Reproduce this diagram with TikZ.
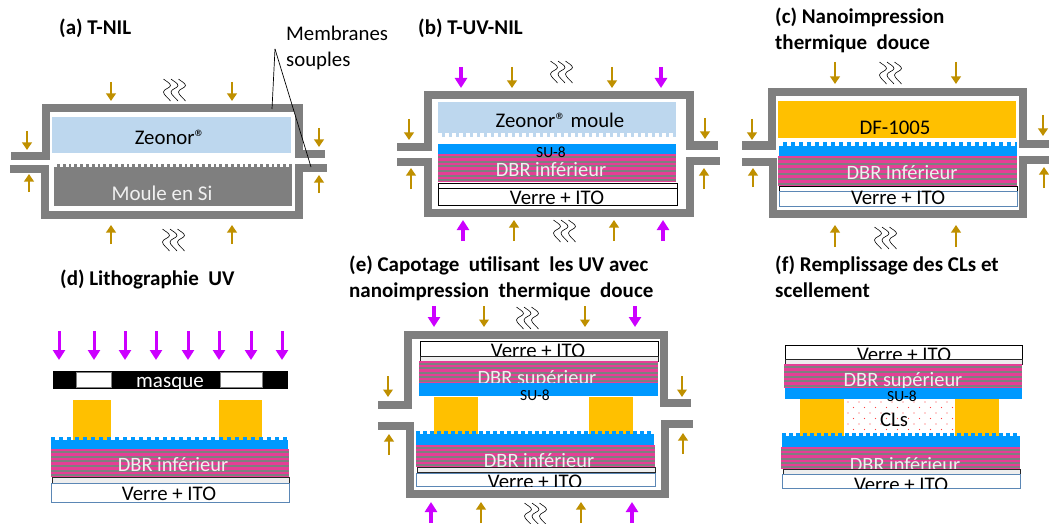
\documentclass[tikz,border=0pt]{standalone}
\usepackage{fontspec}
\setmainfont{Carlito}
\usetikzlibrary{arrows.meta}
\definecolor{memb}{HTML}{7F7F7F}
\definecolor{zeo}{HTML}{BDD7EE}
\definecolor{brownarr}{HTML}{BF9000}
\definecolor{magarr}{HTML}{CC00FF}
\definecolor{resin}{HTML}{FFC000}
\definecolor{sueight}{HTML}{0099FF}
\definecolor{pinkl}{HTML}{E63E96}
\definecolor{steel}{HTML}{5B87B5}
\definecolor{thinl}{HTML}{EEEEEE}
\tikzset{
  membrane/.style={draw=memb,line width=8pt,miter limit=10},
  parr/.style={brownarr,line width=2.4pt,-{Triangle[length=7.5pt,width=9.5pt]}},
  uvarr/.style={magarr,line width=3.6pt,-{Triangle[length=10pt,width=12pt]}},
  wave/.style={black,line width=.6pt},
  big/.style={font=\fontsize{20.8}{24}\selectfont,inner sep=0pt,text=black,yshift=-1pt},
  bigw/.style={font=\fontsize{20.4}{24}\selectfont,inner sep=0pt,text=white!94!black,yshift=-1pt},
  small/.style={font=\fontsize{15.5}{17}\selectfont,inner sep=0pt,text=black,yshift=-1pt},
  title/.style={font=\fontsize{21}{26}\selectfont\bfseries,inner sep=0pt,anchor=north west,align=left,text=black},
  glass/.style={draw=black,line width=1pt,fill=white},
  glassb/.style={draw=steel,line width=1pt,fill=white},
  thin layer/.style={draw=black!85,line width=1pt,fill=thinl},
  leader/.style={black,line width=.7pt},
}
\newcommand{\chamb}[7]{\draw[membrane] (#1,#2) -- (#3,#2) -- (#3,#4) -- (#5,#4) -- (#5,#6) -- (#7,#6);}
\newcommand{\parrow}[4]{\coordinate (pa) at (#2,#3); \coordinate (pb) at (#2,#4); \draw[#1] (pa) -- (pb);}
\newcommand{\heat}[2]{\foreach \k in {0,7.5,15}{
  \draw[wave,shift={(#1+\k-11.5,#2)}] (0,0) .. controls (2,2) and (7,4) .. (7,6.5)
     .. controls (7,9) and (0,10) .. (0,13) .. controls (0,16) and (5,19) .. (7,22);}}
\newcommand{\dbr}[5]{\fill[pinkl] (#1,#3) rectangle (#2,#4);
  \pgfmathsetmacro{\hh}{(#4-#3)/#5}
  \foreach \i in {1,...,#5}{\fill[memb] (#1,{#3+(\i-0.6)*\hh}) rectangle (#2,{#3+(\i-0.15)*\hh});}}
\newcommand{\teeth}[6]{\draw[#5,line width=#4pt,dash pattern=on #6pt off #6pt] (#1,#3) -- (#2,#3);}
\begin{document}
\begin{tikzpicture}[x=1pt,y=-1pt]
\useasboundingbox (0,0) rectangle (1049,524);
\fill[white] (0,0) rectangle (1049,524);

% ---------- (a)
\node[title] (ta) at (59,19) {(a) T-NIL};
\fill[zeo] (52,117) rectangle (291,153);
\node[big] (za) at (170,136) {Zeonor®};
\fill[memb] (54,164) rectangle (292,206);
\teeth{54}{292}{165.5}{3.4}{white}{2.9}
\node[bigw,font=\fontsize{21}{24}\selectfont] (sia) at (162,192) {Moule en Si};
\chamb{11}{155.5}{45.5}{108}{299}{153.5}{325}
\chamb{10}{169}{45}{215}{299}{168}{327}
\node[font=\fontsize{20.8}{26}\selectfont,inner sep=0pt,anchor=north west,align=left] (mem) at (286,26) {Membranes\\souples};
\coordinate (mo) at (275,49);
\coordinate (m1) at (272,109);
\coordinate (m2) at (311,167);
\draw[leader] (mo) -- (m1);
\draw[leader] (mo) -- (m2);
\parrow{parr}{111}{82}{101}\parrow{parr}{232}{82}{101}
\parrow{parr}{111}{244}{225}\parrow{parr}{232}{244}{225}
\parrow{parr}{27}{131}{150}\parrow{parr}{29}{192}{174}
\parrow{parr}{319}{128}{147}\parrow{parr}{319}{193}{175}
\heat{175}{79}\heat{174}{229}

% ---------- (b)
\node[title] (tb) at (418,19) {(b) T-UV-NIL};
\fill[zeo] (438,102) rectangle (676,137);
\teeth{438}{676}{135}{4}{white}{3.5}
\node[big] (zb) at (560,119.5) {Zeonor® moule};
\fill[sueight] (438,144) rectangle (676,154);
\dbr{438}{676}{154}{182}{6}
\node[small] (sb) at (551,151) {SU-8};
\node[bigw] (db) at (551,169) {DBR inférieur};
\draw[glass] (438.5,183) rectangle (677,188.5);
\draw[glass] (438.5,188.5) rectangle (677,205);
\node[big] (vb) at (557,197) {Verre + ITO};
\chamb{397}{147}{428}{95}{690}{145.5}{718}
\chamb{397}{162}{428}{213}{690}{161}{720}
\parrow{uvarr}{461}{67}{88}\parrow{uvarr}{661}{67}{88}
\parrow{parr}{512}{67}{88}\parrow{parr}{612}{67}{88}
\parrow{uvarr}{463}{241}{220}\parrow{uvarr}{663}{241}{220}
\parrow{parr}{514}{241}{220}\parrow{parr}{614}{241}{220}
\parrow{parr}{409}{119}{140}\parrow{parr}{411}{189}{168}
\parrow{parr}{705}{118}{139}\parrow{parr}{704}{189}{168}
\heat{562}{61}\heat{565}{220}

% ---------- (c)
\node[title] (tc) at (775,7.5) {(c) Nanoimpression\\thermique\ \ douce};
\fill[resin] (778,101) rectangle (1016,138);
\node[big] (dfc) at (895,127) {DF-1005};
\fill[sueight] (779,142) rectangle (1017,156);
\teeth{779}{1017}{144}{4}{white}{4}
\dbr{778}{1017}{156}{186}{6}
\node[bigw] (dc) at (902,172) {DBR Inférieur};
\draw[glass] (779,186) rectangle (1017,191);
\draw[glassb] (779,191) rectangle (1017,206);
\node[big] (vc) at (898,197) {Verre + ITO};
\chamb{742}{145.5}{772}{92}{1023}{144}{1049}
\chamb{742}{162}{773}{214}{1023}{160}{1049}
\parrow{parr}{835}{62}{84}\parrow{parr}{956}{62}{84}
\parrow{parr}{835}{247}{225}\parrow{parr}{956}{247}{225}
\parrow{parr}{752}{119}{140}\parrow{parr}{753}{187}{168}
\parrow{parr}{1043}{115}{136}\parrow{parr}{1044}{188}{167}
\heat{891}{62}\heat{886}{227}

% ---------- (d)
\node[title] (td) at (60,269.5) {(d) Lithographie\ \ UV};
\foreach \x in {59,94,125,156,188,219,251,282}{
  \coordinate (ua) at (\x,331); \coordinate (ub) at (\x,360);
  \draw[uvarr,line width=3pt] (ua) -- (ub);}
\fill[black] (53,371) rectangle (288,389);
\draw[draw=memb,line width=.8pt,fill=white] (76,372.5) rectangle (111,387.5);
\draw[draw=memb,line width=.8pt,fill=white] (220,372.5) rectangle (262,387.5);
\begin{scope}
\clip (53,371) rectangle (288,388);
\node[bigw,text=white,font=\fontsize{21}{24}\selectfont] (md) at (170,383) {masque};
\end{scope}
\fill[resin] (73,400) rectangle (111,440);
\fill[resin] (219,400) rectangle (262,440);
\teeth{51}{288}{438.5}{3.4}{sueight}{4}
\fill[sueight] (51,440) rectangle (288,449);
\dbr{51}{289}{449}{477}{6}
\node[bigw] (dd) at (173,464) {DBR inférieur};
\draw[thin layer] (52,477) rectangle (289,483);
\draw[glassb] (51.5,483) rectangle (289,502);
\node[big] (vd) at (169,493) {Verre + ITO};

% ---------- (e)
\node[title] (te) at (349,255.5) {(e) Capotage\ \ utilisant\ \ les UV avec\\nanoimpression\ \ thermique\ \ douce};
\draw[glass] (420,341) rectangle (658,356);
\node[big] (ve) at (538,350) {Verre + ITO};
\draw[thin layer] (420,356) rectangle (658,361);
\dbr{419}{658}{361}{383}{5}
\node[bigw] (dse) at (537,378) {DBR supérieur};
\fill[sueight] (419,383) rectangle (658,396);
\node[small] (se) at (535,394) {SU-8};
\fill[resin] (434,397) rectangle (478,434);
\fill[resin] (589,397) rectangle (633,434);
\teeth{416}{654}{432.5}{3}{sueight}{3.5}
\fill[sueight] (416,434) rectangle (654,445);
\dbr{416}{655}{445}{467}{5}
\node[bigw] (die) at (539,460) {DBR inférieur};
\draw[thin layer] (417,467) rectangle (655,472);
\draw[glassb] (416.5,473) rectangle (655,486);
\begin{scope}
\clip (416,465) rectangle (655,486);
\node[big] (vie) at (535,481) {Verre + ITO};
\end{scope}
\chamb{378}{405}{408}{335}{664}{403}{691}
\chamb{378}{426}{410}{494}{665}{424}{693}
\parrow{uvarr}{434}{306}{327}\parrow{uvarr}{635}{306}{327}
\parrow{parr}{484}{306}{327}\parrow{parr}{585}{306}{327}
\parrow{uvarr}{431}{523}{502}\parrow{uvarr}{632}{523}{502}
\parrow{parr}{481}{523}{502}\parrow{parr}{581}{523}{502}
\parrow{parr}{388}{376}{397}\parrow{parr}{389}{455}{434}
\parrow{parr}{682}{376}{397}\parrow{parr}{683}{454}{433}
\heat{528}{307}\heat{536}{503}

% ---------- (f)
\node[title] (tf) at (775,255.5) {(f) Remplissage\ des CLs et\\scellement};
\draw[glass] (785,345) rectangle (1022,359);
\node[big] (vf) at (904,354) {Verre + ITO};
\draw[thin layer] (785,359) rectangle (1022,364);
\dbr{784}{1022}{364}{388}{5}
\node[bigw] (dsf) at (903,380) {DBR supérieur};
\fill[sueight] (785,388) rectangle (1022,399);
\node[small] (sf) at (902,395.5) {SU-8};
\fill[resin] (800,399) rectangle (844,436);
\fill[resin] (955,399) rectangle (999,436);
\foreach \r in {0,...,5}{
  \foreach \c in {0,...,9}{
    \pgfmathsetmacro{\px}{848+\c*11+mod(\r,2)*5.5}
    \pgfmathsetmacro{\py}{402+\r*5.5}
    \fill[red!75!white] (\px,\py) circle (.55pt);}}
\node[big] (clf) at (894,419) {CLs};
\teeth{782}{1020}{434.5}{3}{sueight}{3.5}
\fill[sueight] (782,436) rectangle (1020,447);
\dbr{781}{1020}{447}{469}{5}
\node[bigw] (dif) at (905,464) {DBR inférieur};
\draw[thin layer] (783,469) rectangle (1020,474);
\draw[glassb] (782.5,474) rectangle (1020,488);
\begin{scope}
\clip (782,466) rectangle (1020,488);
\node[big] (vif) at (901,484) {Verre + ITO};
\end{scope}
\end{tikzpicture}
\end{document}
